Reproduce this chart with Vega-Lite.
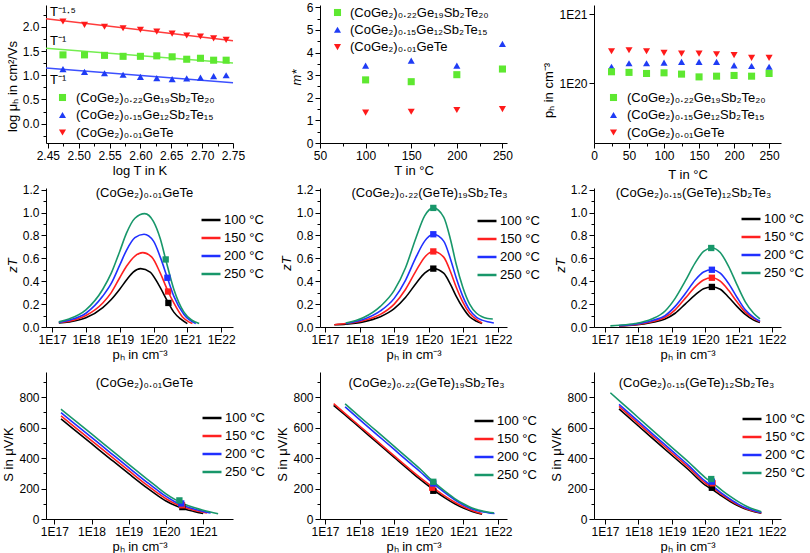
{
"$schema":"https://vega.github.io/schema/vega-lite/v6.json",
"autosize":{"type":"pad"},
"padding":{"left":2,"top":1,"right":0,"bottom":0},
"background":"white",
"config":{
 "font":"Liberation Sans",
 "view":{"stroke":null},
 "axis":{"grid":false,"domainColor":"#000","tickColor":"#000","labelColor":"#000","titleColor":"#000","labelFont":"Liberation Sans","titleFont":"Liberation Sans","labelFontSize":12,"titleFontSize":13,"titleFontWeight":"normal","tickSize":5,"labelPadding":2,"titlePadding":3,"labelFlush":false,"labelOverlap":false},
 "legend":{"labelFont":"Liberation Sans","labelFontSize":13,"labelColor":"#000","padding":0,"labelLimit":300},
 "title":{"font":"Liberation Sans","fontSize":13,"fontWeight":"normal","color":"#000"}
},
"datasets":{
 "mu":[
  {"logT":2.4745,"mu":2.11,"s":"(CoGe₂)₀.₀₁GeTe"},{"logT":2.5094,"mu":2.04,"s":"(CoGe₂)₀.₀₁GeTe"},{"logT":2.5418,"mu":2.00,"s":"(CoGe₂)₀.₀₁GeTe"},{"logT":2.5719,"mu":1.97,"s":"(CoGe₂)₀.₀₁GeTe"},{"logT":2.6000,"mu":1.94,"s":"(CoGe₂)₀.₀₁GeTe"},{"logT":2.6265,"mu":1.90,"s":"(CoGe₂)₀.₀₁GeTe"},{"logT":2.6514,"mu":1.86,"s":"(CoGe₂)₀.₀₁GeTe"},{"logT":2.6750,"mu":1.82,"s":"(CoGe₂)₀.₀₁GeTe"},{"logT":2.6973,"mu":1.80,"s":"(CoGe₂)₀.₀₁GeTe"},{"logT":2.7186,"mu":1.76,"s":"(CoGe₂)₀.₀₁GeTe"},{"logT":2.7389,"mu":1.73,"s":"(CoGe₂)₀.₀₁GeTe"},
  {"logT":2.4745,"mu":1.42,"s":"(CoGe₂)₀.₂₂Ge₁₉Sb₂Te₂₀"},{"logT":2.5094,"mu":1.42,"s":"(CoGe₂)₀.₂₂Ge₁₉Sb₂Te₂₀"},{"logT":2.5418,"mu":1.41,"s":"(CoGe₂)₀.₂₂Ge₁₉Sb₂Te₂₀"},{"logT":2.5719,"mu":1.39,"s":"(CoGe₂)₀.₂₂Ge₁₉Sb₂Te₂₀"},{"logT":2.6000,"mu":1.39,"s":"(CoGe₂)₀.₂₂Ge₁₉Sb₂Te₂₀"},{"logT":2.6265,"mu":1.40,"s":"(CoGe₂)₀.₂₂Ge₁₉Sb₂Te₂₀"},{"logT":2.6514,"mu":1.38,"s":"(CoGe₂)₀.₂₂Ge₁₉Sb₂Te₂₀"},{"logT":2.6750,"mu":1.33,"s":"(CoGe₂)₀.₂₂Ge₁₉Sb₂Te₂₀"},{"logT":2.6973,"mu":1.35,"s":"(CoGe₂)₀.₂₂Ge₁₉Sb₂Te₂₀"},{"logT":2.7186,"mu":1.31,"s":"(CoGe₂)₀.₂₂Ge₁₉Sb₂Te₂₀"},{"logT":2.7389,"mu":1.31,"s":"(CoGe₂)₀.₂₂Ge₁₉Sb₂Te₂₀"},
  {"logT":2.4745,"mu":1.125,"s":"(CoGe₂)₀.₁₅Ge₁₂Sb₂Te₁₅"},{"logT":2.5094,"mu":1.07,"s":"(CoGe₂)₀.₁₅Ge₁₂Sb₂Te₁₅"},{"logT":2.5418,"mu":1.04,"s":"(CoGe₂)₀.₁₅Ge₁₂Sb₂Te₁₅"},{"logT":2.5719,"mu":1.01,"s":"(CoGe₂)₀.₁₅Ge₁₂Sb₂Te₁₅"},{"logT":2.6000,"mu":0.965,"s":"(CoGe₂)₀.₁₅Ge₁₂Sb₂Te₁₅"},{"logT":2.6265,"mu":0.94,"s":"(CoGe₂)₀.₁₅Ge₁₂Sb₂Te₁₅"},{"logT":2.6514,"mu":0.92,"s":"(CoGe₂)₀.₁₅Ge₁₂Sb₂Te₁₅"},{"logT":2.6750,"mu":0.935,"s":"(CoGe₂)₀.₁₅Ge₁₂Sb₂Te₁₅"},{"logT":2.6973,"mu":0.95,"s":"(CoGe₂)₀.₁₅Ge₁₂Sb₂Te₁₅"},{"logT":2.7186,"mu":0.98,"s":"(CoGe₂)₀.₁₅Ge₁₂Sb₂Te₁₅"},{"logT":2.7389,"mu":1.00,"s":"(CoGe₂)₀.₁₅Ge₁₂Sb₂Te₁₅"}
 ],
 "mfit":[
  {"logT":2.447,"mu":2.167,"fit":"a","label":"T⁻¹·⁵"},{"logT":2.75,"mu":1.712,"fit":"a","label":"T⁻¹·⁵"},
  {"logT":2.447,"mu":1.555,"fit":"b","label":"T⁻¹"},{"logT":2.75,"mu":1.252,"fit":"b","label":"T⁻¹"},
  {"logT":2.447,"mu":1.147,"fit":"c","label":"T⁻¹"},{"logT":2.75,"mu":0.844,"fit":"c","label":"T⁻¹"}
 ],
 "mstar":[
  {"T":100,"m":2.79,"s":"(CoGe₂)₀.₂₂Ge₁₉Sb₂Te₂₀"},{"T":150,"m":2.71,"s":"(CoGe₂)₀.₂₂Ge₁₉Sb₂Te₂₀"},{"T":200,"m":3.02,"s":"(CoGe₂)₀.₂₂Ge₁₉Sb₂Te₂₀"},{"T":250,"m":3.27,"s":"(CoGe₂)₀.₂₂Ge₁₉Sb₂Te₂₀"},
  {"T":100,"m":3.42,"s":"(CoGe₂)₀.₁₅Ge₁₂Sb₂Te₁₅"},{"T":150,"m":3.64,"s":"(CoGe₂)₀.₁₅Ge₁₂Sb₂Te₁₅"},{"T":200,"m":3.42,"s":"(CoGe₂)₀.₁₅Ge₁₂Sb₂Te₁₅"},{"T":250,"m":4.38,"s":"(CoGe₂)₀.₁₅Ge₁₂Sb₂Te₁₅"},
  {"T":100,"m":1.34,"s":"(CoGe₂)₀.₀₁GeTe"},{"T":150,"m":1.38,"s":"(CoGe₂)₀.₀₁GeTe"},{"T":200,"m":1.46,"s":"(CoGe₂)₀.₀₁GeTe"},{"T":250,"m":1.50,"s":"(CoGe₂)₀.₀₁GeTe"}
 ],
 "ph":[
  {"T":25,"p":2.91e20,"s":"(CoGe₂)₀.₀₁GeTe"},{"T":50,"p":3.0e20,"s":"(CoGe₂)₀.₀₁GeTe"},{"T":75,"p":2.91e20,"s":"(CoGe₂)₀.₀₁GeTe"},{"T":100,"p":2.75e20,"s":"(CoGe₂)₀.₀₁GeTe"},{"T":125,"p":2.69e20,"s":"(CoGe₂)₀.₀₁GeTe"},{"T":150,"p":2.69e20,"s":"(CoGe₂)₀.₀₁GeTe"},{"T":175,"p":2.63e20,"s":"(CoGe₂)₀.₀₁GeTe"},{"T":200,"p":2.55e20,"s":"(CoGe₂)₀.₀₁GeTe"},{"T":225,"p":2.33e20,"s":"(CoGe₂)₀.₀₁GeTe"},{"T":250,"p":2.33e20,"s":"(CoGe₂)₀.₀₁GeTe"},
  {"T":25,"p":1.74e20,"s":"(CoGe₂)₀.₁₅Ge₁₂Sb₂Te₁₅"},{"T":50,"p":1.95e20,"s":"(CoGe₂)₀.₁₅Ge₁₂Sb₂Te₁₅"},{"T":75,"p":1.95e20,"s":"(CoGe₂)₀.₁₅Ge₁₂Sb₂Te₁₅"},{"T":100,"p":1.99e20,"s":"(CoGe₂)₀.₁₅Ge₁₂Sb₂Te₁₅"},{"T":125,"p":2.04e20,"s":"(CoGe₂)₀.₁₅Ge₁₂Sb₂Te₁₅"},{"T":150,"p":2.04e20,"s":"(CoGe₂)₀.₁₅Ge₁₂Sb₂Te₁₅"},{"T":175,"p":2.04e20,"s":"(CoGe₂)₀.₁₅Ge₁₂Sb₂Te₁₅"},{"T":200,"p":1.82e20,"s":"(CoGe₂)₀.₁₅Ge₁₂Sb₂Te₁₅"},{"T":225,"p":1.78e20,"s":"(CoGe₂)₀.₁₅Ge₁₂Sb₂Te₁₅"},{"T":250,"p":1.74e20,"s":"(CoGe₂)₀.₁₅Ge₁₂Sb₂Te₁₅"},
  {"T":25,"p":1.47e20,"s":"(CoGe₂)₀.₂₂Ge₁₉Sb₂Te₂₀"},{"T":50,"p":1.44e20,"s":"(CoGe₂)₀.₂₂Ge₁₉Sb₂Te₂₀"},{"T":75,"p":1.39e20,"s":"(CoGe₂)₀.₂₂Ge₁₉Sb₂Te₂₀"},{"T":100,"p":1.42e20,"s":"(CoGe₂)₀.₂₂Ge₁₉Sb₂Te₂₀"},{"T":125,"p":1.36e20,"s":"(CoGe₂)₀.₂₂Ge₁₉Sb₂Te₂₀"},{"T":150,"p":1.24e20,"s":"(CoGe₂)₀.₂₂Ge₁₉Sb₂Te₂₀"},{"T":175,"p":1.27e20,"s":"(CoGe₂)₀.₂₂Ge₁₉Sb₂Te₂₀"},{"T":200,"p":1.30e20,"s":"(CoGe₂)₀.₂₂Ge₁₉Sb₂Te₂₀"},{"T":225,"p":1.27e20,"s":"(CoGe₂)₀.₂₂Ge₁₉Sb₂Te₂₀"},{"T":250,"p":1.39e20,"s":"(CoGe₂)₀.₂₂Ge₁₉Sb₂Te₂₀"}
 ],
 "zt1":[
  {"p":1.585e17,"z":0.035,"t":"100 °C"},{"p":3.162e17,"z":0.045,"t":"100 °C"},{"p":1e18,"z":0.08,"t":"100 °C"},{"p":3.162e18,"z":0.17,"t":"100 °C"},{"p":5.623e18,"z":0.24,"t":"100 °C"},{"p":1e19,"z":0.33,"t":"100 °C"},{"p":1.585e19,"z":0.41,"t":"100 °C"},{"p":2.512e19,"z":0.48,"t":"100 °C"},{"p":4.169e19,"z":0.51,"t":"100 °C"},{"p":7.943e19,"z":0.48,"t":"100 °C"},{"p":1.413e20,"z":0.37,"t":"100 °C"},{"p":2.754e20,"z":0.21,"t":"100 °C"},{"p":3.981e20,"z":0.13,"t":"100 °C"},{"p":6.31e20,"z":0.07,"t":"100 °C"},{"p":1e21,"z":0.03,"t":"100 °C"},
  {"p":1.585e17,"z":0.04,"t":"150 °C"},{"p":3.162e17,"z":0.05,"t":"150 °C"},{"p":1e18,"z":0.10,"t":"150 °C"},{"p":3.162e18,"z":0.21,"t":"150 °C"},{"p":5.623e18,"z":0.30,"t":"150 °C"},{"p":1e19,"z":0.43,"t":"150 °C"},{"p":1.585e19,"z":0.53,"t":"150 °C"},{"p":2.818e19,"z":0.62,"t":"150 °C"},{"p":4.786e19,"z":0.65,"t":"150 °C"},{"p":8.913e19,"z":0.61,"t":"150 °C"},{"p":1.585e20,"z":0.47,"t":"150 °C"},{"p":2.692e20,"z":0.31,"t":"150 °C"},{"p":3.981e20,"z":0.21,"t":"150 °C"},{"p":7.079e20,"z":0.09,"t":"150 °C"},{"p":1.413e21,"z":0.03,"t":"150 °C"},
  {"p":1.585e17,"z":0.04,"t":"200 °C"},{"p":3.162e17,"z":0.06,"t":"200 °C"},{"p":1e18,"z":0.12,"t":"200 °C"},{"p":3.162e18,"z":0.27,"t":"200 °C"},{"p":5.623e18,"z":0.38,"t":"200 °C"},{"p":1e19,"z":0.54,"t":"200 °C"},{"p":1.585e19,"z":0.67,"t":"200 °C"},{"p":2.818e19,"z":0.78,"t":"200 °C"},{"p":5.248e19,"z":0.81,"t":"200 °C"},{"p":1e20,"z":0.75,"t":"200 °C"},{"p":1.585e20,"z":0.61,"t":"200 °C"},{"p":2.57e20,"z":0.43,"t":"200 °C"},{"p":3.981e20,"z":0.27,"t":"200 °C"},{"p":7.943e20,"z":0.11,"t":"200 °C"},{"p":1.778e21,"z":0.03,"t":"200 °C"},
  {"p":1.585e17,"z":0.045,"t":"250 °C"},{"p":3.162e17,"z":0.07,"t":"250 °C"},{"p":1e18,"z":0.15,"t":"250 °C"},{"p":3.162e18,"z":0.33,"t":"250 °C"},{"p":5.623e18,"z":0.47,"t":"250 °C"},{"p":1e19,"z":0.66,"t":"250 °C"},{"p":1.585e19,"z":0.82,"t":"250 °C"},{"p":2.818e19,"z":0.95,"t":"250 °C"},{"p":5.495e19,"z":0.99,"t":"250 °C"},{"p":1e20,"z":0.92,"t":"250 °C"},{"p":1.585e20,"z":0.77,"t":"250 °C"},{"p":2.291e20,"z":0.59,"t":"250 °C"},{"p":3.981e20,"z":0.33,"t":"250 °C"},{"p":7.943e20,"z":0.13,"t":"250 °C"},{"p":2.239e21,"z":0.03,"t":"250 °C"}
 ],
 "zt1m":[
  {"p":2.754e20,"z":0.21,"t":"100 °C"},{"p":2.692e20,"z":0.31,"t":"150 °C"},{"p":2.57e20,"z":0.43,"t":"200 °C"},{"p":2.291e20,"z":0.59,"t":"250 °C"}
 ],
 "zt2":[
  {"p":1.862e17,"z":0.02,"t":"100 °C"},{"p":3.981e17,"z":0.025,"t":"100 °C"},{"p":1.259e18,"z":0.045,"t":"100 °C"},{"p":3.981e18,"z":0.09,"t":"100 °C"},{"p":1e19,"z":0.16,"t":"100 °C"},{"p":2.138e19,"z":0.26,"t":"100 °C"},{"p":4.266e19,"z":0.38,"t":"100 °C"},{"p":7.586e19,"z":0.47,"t":"100 °C"},{"p":1.349e20,"z":0.51,"t":"100 °C"},{"p":2.692e20,"z":0.47,"t":"100 °C"},{"p":4.266e20,"z":0.37,"t":"100 °C"},{"p":6.166e20,"z":0.27,"t":"100 °C"},{"p":9.55e20,"z":0.17,"t":"100 °C"},{"p":1.514e21,"z":0.09,"t":"100 °C"},{"p":2.399e21,"z":0.05,"t":"100 °C"},{"p":3.467e21,"z":0.03,"t":"100 °C"},
  {"p":1.862e17,"z":0.02,"t":"150 °C"},{"p":3.981e17,"z":0.03,"t":"150 °C"},{"p":1.259e18,"z":0.055,"t":"150 °C"},{"p":3.981e18,"z":0.11,"t":"150 °C"},{"p":1e19,"z":0.2,"t":"150 °C"},{"p":2.138e19,"z":0.33,"t":"150 °C"},{"p":4.266e19,"z":0.49,"t":"150 °C"},{"p":7.586e19,"z":0.61,"t":"150 °C"},{"p":1.349e20,"z":0.66,"t":"150 °C"},{"p":2.692e20,"z":0.61,"t":"150 °C"},{"p":4.266e20,"z":0.48,"t":"150 °C"},{"p":6.166e20,"z":0.35,"t":"150 °C"},{"p":9.55e20,"z":0.22,"t":"150 °C"},{"p":1.514e21,"z":0.12,"t":"150 °C"},{"p":2.399e21,"z":0.065,"t":"150 °C"},{"p":3.467e21,"z":0.035,"t":"150 °C"},
  {"p":3.981e17,"z":0.03,"t":"200 °C"},{"p":1.259e18,"z":0.065,"t":"200 °C"},{"p":3.981e18,"z":0.14,"t":"200 °C"},{"p":1e19,"z":0.25,"t":"200 °C"},{"p":2.138e19,"z":0.41,"t":"200 °C"},{"p":4.266e19,"z":0.61,"t":"200 °C"},{"p":7.586e19,"z":0.75,"t":"200 °C"},{"p":1.349e20,"z":0.81,"t":"200 °C"},{"p":2.692e20,"z":0.75,"t":"200 °C"},{"p":4.266e20,"z":0.59,"t":"200 °C"},{"p":6.166e20,"z":0.43,"t":"200 °C"},{"p":9.55e20,"z":0.27,"t":"200 °C"},{"p":1.514e21,"z":0.15,"t":"200 °C"},{"p":2.399e21,"z":0.085,"t":"200 °C"},{"p":3.467e21,"z":0.06,"t":"200 °C"},{"p":5.012e21,"z":0.045,"t":"200 °C"},{"p":7.586e21,"z":0.035,"t":"200 °C"},
  {"p":3.981e17,"z":0.035,"t":"250 °C"},{"p":1.259e18,"z":0.08,"t":"250 °C"},{"p":3.981e18,"z":0.18,"t":"250 °C"},{"p":1e19,"z":0.32,"t":"250 °C"},{"p":2.138e19,"z":0.52,"t":"250 °C"},{"p":4.266e19,"z":0.78,"t":"250 °C"},{"p":7.586e19,"z":0.97,"t":"250 °C"},{"p":1.349e20,"z":1.04,"t":"250 °C"},{"p":2.692e20,"z":0.96,"t":"250 °C"},{"p":4.266e20,"z":0.76,"t":"250 °C"},{"p":6.166e20,"z":0.55,"t":"250 °C"},{"p":9.55e20,"z":0.35,"t":"250 °C"},{"p":1.514e21,"z":0.2,"t":"250 °C"},{"p":2.399e21,"z":0.12,"t":"250 °C"},{"p":3.467e21,"z":0.09,"t":"250 °C"},{"p":5.012e21,"z":0.075,"t":"250 °C"},{"p":7.079e21,"z":0.07,"t":"250 °C"}
 ],
 "zt2m":[
  {"p":1.349e20,"z":0.51,"t":"100 °C"},{"p":1.349e20,"z":0.66,"t":"150 °C"},{"p":1.349e20,"z":0.81,"t":"200 °C"},{"p":1.349e20,"z":1.04,"t":"250 °C"}
 ],
 "zt3":[
  {"p":2.63e17,"z":0.01,"t":"100 °C"},{"p":7.943e17,"z":0.018,"t":"100 °C"},{"p":2.512e18,"z":0.04,"t":"100 °C"},{"p":6.31e18,"z":0.07,"t":"100 °C"},{"p":1.259e19,"z":0.12,"t":"100 °C"},{"p":2.512e19,"z":0.2,"t":"100 °C"},{"p":5.012e19,"z":0.28,"t":"100 °C"},{"p":8.913e19,"z":0.335,"t":"100 °C"},{"p":1.585e20,"z":0.35,"t":"100 °C"},{"p":2.818e20,"z":0.33,"t":"100 °C"},{"p":5.012e20,"z":0.26,"t":"100 °C"},{"p":8.913e20,"z":0.18,"t":"100 °C"},{"p":1.585e21,"z":0.11,"t":"100 °C"},{"p":2.818e21,"z":0.06,"t":"100 °C"},{"p":4.365e21,"z":0.04,"t":"100 °C"},
  {"p":2.63e17,"z":0.01,"t":"150 °C"},{"p":7.943e17,"z":0.02,"t":"150 °C"},{"p":2.512e18,"z":0.045,"t":"150 °C"},{"p":6.31e18,"z":0.085,"t":"150 °C"},{"p":1.259e19,"z":0.15,"t":"150 °C"},{"p":2.512e19,"z":0.25,"t":"150 °C"},{"p":5.012e19,"z":0.35,"t":"150 °C"},{"p":8.913e19,"z":0.41,"t":"150 °C"},{"p":1.585e20,"z":0.43,"t":"150 °C"},{"p":2.818e20,"z":0.40,"t":"150 °C"},{"p":5.012e20,"z":0.32,"t":"150 °C"},{"p":8.913e20,"z":0.22,"t":"150 °C"},{"p":1.585e21,"z":0.13,"t":"150 °C"},{"p":2.818e21,"z":0.075,"t":"150 °C"},{"p":4.365e21,"z":0.045,"t":"150 °C"},
  {"p":2.63e17,"z":0.012,"t":"200 °C"},{"p":7.943e17,"z":0.025,"t":"200 °C"},{"p":2.512e18,"z":0.055,"t":"200 °C"},{"p":6.31e18,"z":0.1,"t":"200 °C"},{"p":1.259e19,"z":0.18,"t":"200 °C"},{"p":2.512e19,"z":0.29,"t":"200 °C"},{"p":5.012e19,"z":0.41,"t":"200 °C"},{"p":8.913e19,"z":0.48,"t":"200 °C"},{"p":1.585e20,"z":0.5,"t":"200 °C"},{"p":2.818e20,"z":0.47,"t":"200 °C"},{"p":5.012e20,"z":0.38,"t":"200 °C"},{"p":8.913e20,"z":0.26,"t":"200 °C"},{"p":1.585e21,"z":0.15,"t":"200 °C"},{"p":2.818e21,"z":0.085,"t":"200 °C"},{"p":4.365e21,"z":0.05,"t":"200 °C"},
  {"p":1.445e17,"z":0.01,"t":"250 °C"},{"p":2.63e17,"z":0.015,"t":"250 °C"},{"p":7.943e17,"z":0.03,"t":"250 °C"},{"p":2.512e18,"z":0.07,"t":"250 °C"},{"p":6.31e18,"z":0.14,"t":"250 °C"},{"p":1.259e19,"z":0.25,"t":"250 °C"},{"p":2.512e19,"z":0.4,"t":"250 °C"},{"p":5.012e19,"z":0.56,"t":"250 °C"},{"p":8.913e19,"z":0.66,"t":"250 °C"},{"p":1.585e20,"z":0.69,"t":"250 °C"},{"p":2.818e20,"z":0.65,"t":"250 °C"},{"p":5.012e20,"z":0.53,"t":"250 °C"},{"p":8.913e20,"z":0.37,"t":"250 °C"},{"p":1.585e21,"z":0.22,"t":"250 °C"},{"p":2.818e21,"z":0.12,"t":"250 °C"},{"p":4.365e21,"z":0.07,"t":"250 °C"}
 ],
 "zt3m":[
  {"p":1.585e20,"z":0.35,"t":"100 °C"},{"p":1.585e20,"z":0.43,"t":"150 °C"},{"p":1.585e20,"z":0.50,"t":"200 °C"},{"p":1.514e20,"z":0.69,"t":"250 °C"}
 ],
 "s1":[
  {"p":1.514e17,"S":656,"t":"100 °C"},{"p":3.162e17,"S":593,"t":"100 °C"},{"p":1e18,"S":494,"t":"100 °C"},{"p":3.162e18,"S":395,"t":"100 °C"},{"p":1e19,"S":297,"t":"100 °C"},{"p":3.162e19,"S":202,"t":"100 °C"},{"p":5.623e19,"S":158,"t":"100 °C"},{"p":1e20,"S":118,"t":"100 °C"},{"p":1.778e20,"S":88,"t":"100 °C"},{"p":3.162e20,"S":66,"t":"100 °C"},{"p":5.623e20,"S":50,"t":"100 °C"},{"p":1e21,"S":36,"t":"100 °C"},
  {"p":1.514e17,"S":676,"t":"150 °C"},{"p":3.162e17,"S":613,"t":"150 °C"},{"p":1e18,"S":514,"t":"150 °C"},{"p":3.162e18,"S":415,"t":"150 °C"},{"p":1e19,"S":317,"t":"150 °C"},{"p":3.162e19,"S":220,"t":"150 °C"},{"p":5.623e19,"S":175,"t":"150 °C"},{"p":1e20,"S":133,"t":"150 °C"},{"p":1.778e20,"S":100,"t":"150 °C"},{"p":3.162e20,"S":76,"t":"150 °C"},{"p":5.623e20,"S":58,"t":"150 °C"},{"p":1e21,"S":44,"t":"150 °C"},{"p":1.259e21,"S":39,"t":"150 °C"},
  {"p":1.514e17,"S":697,"t":"200 °C"},{"p":3.162e17,"S":634,"t":"200 °C"},{"p":1e18,"S":535,"t":"200 °C"},{"p":3.162e18,"S":436,"t":"200 °C"},{"p":1e19,"S":337,"t":"200 °C"},{"p":3.162e19,"S":239,"t":"200 °C"},{"p":5.623e19,"S":192,"t":"200 °C"},{"p":1e20,"S":148,"t":"200 °C"},{"p":1.778e20,"S":112,"t":"200 °C"},{"p":3.162e20,"S":86,"t":"200 °C"},{"p":5.623e20,"S":66,"t":"200 °C"},{"p":1e21,"S":50,"t":"200 °C"},{"p":1.585e21,"S":40,"t":"200 °C"},
  {"p":1.514e17,"S":720,"t":"250 °C"},{"p":3.162e17,"S":657,"t":"250 °C"},{"p":1e18,"S":558,"t":"250 °C"},{"p":3.162e18,"S":458,"t":"250 °C"},{"p":1e19,"S":358,"t":"250 °C"},{"p":3.162e19,"S":260,"t":"250 °C"},{"p":5.623e19,"S":212,"t":"250 °C"},{"p":1e20,"S":165,"t":"250 °C"},{"p":1.778e20,"S":127,"t":"250 °C"},{"p":3.162e20,"S":97,"t":"250 °C"},{"p":5.623e20,"S":75,"t":"250 °C"},{"p":1e21,"S":57,"t":"250 °C"},{"p":2.512e21,"S":35,"t":"250 °C"}
 ],
 "s1m":[
  {"p":2.754e20,"S":78,"t":"100 °C"},{"p":2.692e20,"S":90,"t":"150 °C"},{"p":2.57e20,"S":102,"t":"200 °C"},{"p":2.291e20,"S":122,"t":"250 °C"}
 ],
 "s2":[
  {"p":1.778e17,"S":745,"t":"100 °C"},{"p":3.162e17,"S":698,"t":"100 °C"},{"p":1e18,"S":600,"t":"100 °C"},{"p":3.162e18,"S":502,"t":"100 °C"},{"p":1e19,"S":404,"t":"100 °C"},{"p":3.162e19,"S":307,"t":"100 °C"},{"p":5.623e19,"S":260,"t":"100 °C"},{"p":1e20,"S":215,"t":"100 °C"},{"p":1.778e20,"S":172,"t":"100 °C"},{"p":3.162e20,"S":134,"t":"100 °C"},{"p":5.623e20,"S":100,"t":"100 °C"},{"p":1e21,"S":72,"t":"100 °C"},{"p":1.778e21,"S":50,"t":"100 °C"},{"p":3.467e21,"S":32,"t":"100 °C"},
  {"p":1.778e17,"S":757,"t":"150 °C"},{"p":3.162e17,"S":708,"t":"150 °C"},{"p":1e18,"S":610,"t":"150 °C"},{"p":3.162e18,"S":512,"t":"150 °C"},{"p":1e19,"S":414,"t":"150 °C"},{"p":3.162e19,"S":318,"t":"150 °C"},{"p":5.623e19,"S":272,"t":"150 °C"},{"p":1e20,"S":228,"t":"150 °C"},{"p":1.778e20,"S":185,"t":"150 °C"},{"p":3.162e20,"S":145,"t":"150 °C"},{"p":5.623e20,"S":110,"t":"150 °C"},{"p":1e21,"S":80,"t":"150 °C"},{"p":1.778e21,"S":56,"t":"150 °C"},{"p":3.467e21,"S":35,"t":"150 °C"},
  {"p":3.802e17,"S":735,"t":"200 °C"},{"p":1e18,"S":652,"t":"200 °C"},{"p":3.162e18,"S":554,"t":"200 °C"},{"p":1e19,"S":456,"t":"200 °C"},{"p":3.162e19,"S":358,"t":"200 °C"},{"p":5.623e19,"S":310,"t":"200 °C"},{"p":1e20,"S":258,"t":"200 °C"},{"p":1.778e20,"S":210,"t":"200 °C"},{"p":3.162e20,"S":166,"t":"200 °C"},{"p":5.623e20,"S":126,"t":"200 °C"},{"p":1e21,"S":92,"t":"200 °C"},{"p":1.778e21,"S":66,"t":"200 °C"},{"p":3.162e21,"S":50,"t":"200 °C"},{"p":5.012e21,"S":42,"t":"200 °C"},{"p":7.943e21,"S":36,"t":"200 °C"},
  {"p":3.802e17,"S":755,"t":"250 °C"},{"p":1e18,"S":672,"t":"250 °C"},{"p":3.162e18,"S":574,"t":"250 °C"},{"p":1e19,"S":476,"t":"250 °C"},{"p":3.162e19,"S":378,"t":"250 °C"},{"p":5.623e19,"S":328,"t":"250 °C"},{"p":1e20,"S":272,"t":"250 °C"},{"p":1.778e20,"S":222,"t":"250 °C"},{"p":3.162e20,"S":176,"t":"250 °C"},{"p":5.623e20,"S":134,"t":"250 °C"},{"p":1e21,"S":100,"t":"250 °C"},{"p":1.778e21,"S":72,"t":"250 °C"},{"p":3.162e21,"S":55,"t":"250 °C"},{"p":5.012e21,"S":46,"t":"250 °C"},{"p":7.586e21,"S":40,"t":"250 °C"}
 ],
 "s2m":[
  {"p":1.349e20,"S":185,"t":"100 °C"},{"p":1.259e20,"S":205,"t":"150 °C"},{"p":1.349e20,"S":233,"t":"200 °C"},{"p":1.349e20,"S":244,"t":"250 °C"}
 ],
 "s3":[
  {"p":2.63e17,"S":722,"t":"100 °C"},{"p":1e18,"S":610,"t":"100 °C"},{"p":3.162e18,"S":514,"t":"100 °C"},{"p":1e19,"S":418,"t":"100 °C"},{"p":3.162e19,"S":323,"t":"100 °C"},{"p":1e20,"S":222,"t":"100 °C"},{"p":1.778e20,"S":188,"t":"100 °C"},{"p":3.162e20,"S":150,"t":"100 °C"},{"p":5.623e20,"S":115,"t":"100 °C"},{"p":1e21,"S":85,"t":"100 °C"},{"p":1.778e21,"S":62,"t":"100 °C"},{"p":3.162e21,"S":46,"t":"100 °C"},{"p":4.786e21,"S":38,"t":"100 °C"},
  {"p":2.63e17,"S":738,"t":"150 °C"},{"p":1e18,"S":626,"t":"150 °C"},{"p":3.162e18,"S":530,"t":"150 °C"},{"p":1e19,"S":434,"t":"150 °C"},{"p":3.162e19,"S":338,"t":"150 °C"},{"p":1e20,"S":236,"t":"150 °C"},{"p":1.778e20,"S":200,"t":"150 °C"},{"p":3.162e20,"S":160,"t":"150 °C"},{"p":5.623e20,"S":123,"t":"150 °C"},{"p":1e21,"S":91,"t":"150 °C"},{"p":1.778e21,"S":66,"t":"150 °C"},{"p":3.162e21,"S":49,"t":"150 °C"},{"p":4.786e21,"S":40,"t":"150 °C"},
  {"p":2.63e17,"S":752,"t":"200 °C"},{"p":1e18,"S":640,"t":"200 °C"},{"p":3.162e18,"S":544,"t":"200 °C"},{"p":1e19,"S":448,"t":"200 °C"},{"p":3.162e19,"S":352,"t":"200 °C"},{"p":1e20,"S":248,"t":"200 °C"},{"p":1.778e20,"S":210,"t":"200 °C"},{"p":3.162e20,"S":168,"t":"200 °C"},{"p":5.623e20,"S":130,"t":"200 °C"},{"p":1e21,"S":96,"t":"200 °C"},{"p":1.778e21,"S":70,"t":"200 °C"},{"p":3.162e21,"S":52,"t":"200 °C"},{"p":4.786e21,"S":42,"t":"200 °C"},
  {"p":1.445e17,"S":828,"t":"250 °C"},{"p":3.162e17,"S":762,"t":"250 °C"},{"p":1e18,"S":664,"t":"250 °C"},{"p":3.162e18,"S":567,"t":"250 °C"},{"p":1e19,"S":470,"t":"250 °C"},{"p":3.162e19,"S":374,"t":"250 °C"},{"p":1e20,"S":272,"t":"250 °C"},{"p":1.778e20,"S":232,"t":"250 °C"},{"p":3.162e20,"S":188,"t":"250 °C"},{"p":5.623e20,"S":148,"t":"250 °C"},{"p":1e21,"S":112,"t":"250 °C"},{"p":1.778e21,"S":82,"t":"250 °C"},{"p":3.162e21,"S":60,"t":"250 °C"},{"p":4.786e21,"S":48,"t":"250 °C"}
 ],
 "s3m":[
  {"p":1.585e20,"S":205,"t":"100 °C"},{"p":1.66e20,"S":234,"t":"150 °C"},{"p":1.585e20,"S":245,"t":"200 °C"},{"p":1.514e20,"S":262,"t":"250 °C"}
 ]
},
"columns":3,
"spacing":{"row":45,"column":87},
"bounds":"flush",
"align":"each",
"resolve":{"scale":{"x":"independent","y":"independent","color":"independent","shape":"independent","stroke":"independent","fill":"independent"},"legend":{"color":"independent","shape":"independent","stroke":"independent","fill":"independent"}},
"concat":[
 {"width":187,"height":138,
  "encoding":{
   "x":{"field":"logT","type":"quantitative","scale":{"domain":[2.447,2.75],"nice":false,"zero":false},"axis":{"title":"log T in K","labelOverlap":false,"values":[2.45,2.475,2.5,2.525,2.55,2.575,2.6,2.625,2.65,2.675,2.7,2.725,2.75],"labelExpr":"round(datum.value*1000) % 50 == 0 ? format(datum.value, '.2f') : ''","tickSize":{"condition":{"test":"round(datum.value*1000) % 50 != 0","value":3},"value":5}}},
   "y":{"field":"mu","type":"quantitative","scale":{"domain":[-0.4,2.45],"nice":false,"zero":false},"axis":{"title":"log μₕ in cm²/Vs","titleY":81,"labelOverlap":false,"values":[-0.25,0,0.25,0.5,0.75,1,1.25,1.5,1.75,2,2.25],"labelExpr":"round(datum.value*100) % 50 == 0 ? format(datum.value, '.1f') : ''","tickSize":{"condition":{"test":"round(datum.value*100) % 50 != 0","value":3},"value":5}}}
  },
  "layer":[
   {"data":{"name":"mfit"},"mark":{"type":"line","strokeWidth":1.5},
    "encoding":{
     "stroke":{"field":"fit","type":"nominal","scale":{"domain":["a","b","c"],"range":["#ff3c3c","#74ee50","#3c50ff"]},"legend":null}}},
   {"data":{"name":"mu"},"mark":{"type":"point","filled":true,"size":50,"opacity":1},
    "encoding":{
     "color":{"field":"s","type":"nominal","scale":{"domain":["(CoGe₂)₀.₂₂Ge₁₉Sb₂Te₂₀","(CoGe₂)₀.₁₅Ge₁₂Sb₂Te₁₅","(CoGe₂)₀.₀₁GeTe"],"range":["#5ee830","#1f3cf5","#ff1a1a"]},"legend":{"orient":"none","legendX":10,"legendY":86,"title":null,"symbolSize":50,"rowPadding":3.5,"labelOffset":7}},
     "shape":{"field":"s","type":"nominal","scale":{"domain":["(CoGe₂)₀.₂₂Ge₁₉Sb₂Te₂₀","(CoGe₂)₀.₁₅Ge₁₂Sb₂Te₁₅","(CoGe₂)₀.₀₁GeTe"],"range":["square","triangle-up","triangle-down"]},"legend":{"orient":"none","legendX":10,"legendY":86,"title":null,"symbolSize":50,"rowPadding":3.5,"labelOffset":7}}}},
   {"data":{"name":"mfit"},"transform":[{"filter":"datum.logT < 2.5 && datum.fit != 'c'"}],
    "mark":{"type":"text","align":"left","baseline":"middle","fontSize":13,"dx":4,"dy":-7,"color":"#000"},
    "encoding":{"text":{"field":"label","type":"nominal"}}},
   {"data":{"name":"mfit"},"transform":[{"filter":"datum.logT < 2.5 && datum.fit == 'c'"}],
    "mark":{"type":"text","align":"left","baseline":"middle","fontSize":13,"dx":4,"dy":12,"color":"#000"},
    "encoding":{"text":{"field":"label","type":"nominal"}}}
  ]},
 {"width":187,"height":138,
  "data":{"name":"mstar"},
  "mark":{"type":"point","filled":true,"size":50,"opacity":1},
  "encoding":{
   "x":{"field":"T","type":"quantitative","scale":{"domain":[50,255],"nice":false,"zero":false},"axis":{"title":"T in °C","labelOverlap":false,"values":[50,75,100,125,150,175,200,225,250],"labelExpr":"datum.value % 50 == 0 ? format(datum.value, 'd') : ''","tickSize":{"condition":{"test":"datum.value % 50 != 0","value":3},"value":5}}},
   "y":{"field":"m","type":"quantitative","scale":{"domain":[0,6.1],"nice":false},"axis":{"title":"m*","titleFontStyle":"italic","titleY":72,"labelOverlap":false,"values":[0,0.5,1,1.5,2,2.5,3,3.5,4,4.5,5,5.5,6],"labelExpr":"datum.value % 1 == 0 ? format(datum.value, 'd') : ''","tickSize":{"condition":{"test":"datum.value % 1 != 0","value":3},"value":5}}},
   "color":{"field":"s","type":"nominal","scale":{"domain":["(CoGe₂)₀.₂₂Ge₁₉Sb₂Te₂₀","(CoGe₂)₀.₁₅Ge₁₂Sb₂Te₁₅","(CoGe₂)₀.₀₁GeTe"],"range":["#5ee830","#1f3cf5","#ff1a1a"]},"legend":{"orient":"none","legendX":11,"legendY":1,"title":null,"symbolSize":50,"rowPadding":3.3,"labelOffset":6}},
   "shape":{"field":"s","type":"nominal","scale":{"domain":["(CoGe₂)₀.₂₂Ge₁₉Sb₂Te₂₀","(CoGe₂)₀.₁₅Ge₁₂Sb₂Te₁₅","(CoGe₂)₀.₀₁GeTe"],"range":["square","triangle-up","triangle-down"]},"legend":{"orient":"none","legendX":11,"legendY":1,"title":null,"symbolSize":50,"rowPadding":3.3,"labelOffset":6}}}},
 {"width":187,"height":138,
  "data":{"name":"ph"},
  "mark":{"type":"point","filled":true,"size":50,"opacity":1},
  "encoding":{
   "x":{"field":"T","type":"quantitative","scale":{"domain":[0,267],"nice":false},"axis":{"title":"T in °C","titlePadding":7,"labelOverlap":false,"values":[0,25,50,75,100,125,150,175,200,225,250],"labelExpr":"datum.value % 50 == 0 ? format(datum.value, 'd') : ''","tickSize":{"condition":{"test":"datum.value % 50 != 0","value":3},"value":5}}},
   "y":{"field":"p","type":"quantitative","scale":{"type":"log","domain":[1.38e19,1.35e21],"nice":false},"axis":{"title":"pₕ in cm⁻³","titleY":85,"labelOverlap":false,"values":[1e20,1e21],"labelExpr":"'1E' + round(log(datum.value)/LN10)"}},
   "color":{"field":"s","type":"nominal","scale":{"domain":["(CoGe₂)₀.₂₂Ge₁₉Sb₂Te₂₀","(CoGe₂)₀.₁₅Ge₁₂Sb₂Te₁₅","(CoGe₂)₀.₀₁GeTe"],"range":["#5ee830","#1f3cf5","#ff1a1a"]},"legend":{"orient":"none","legendX":13,"legendY":86,"title":null,"symbolSize":50,"rowPadding":3.5,"labelOffset":7}},
   "shape":{"field":"s","type":"nominal","scale":{"domain":["(CoGe₂)₀.₂₂Ge₁₉Sb₂Te₂₀","(CoGe₂)₀.₁₅Ge₁₂Sb₂Te₁₅","(CoGe₂)₀.₀₁GeTe"],"range":["square","triangle-up","triangle-down"]},"legend":{"orient":"none","legendX":13,"legendY":86,"title":null,"symbolSize":50,"rowPadding":3.5,"labelOffset":7}}}},
 {"width":187,"height":139,
  "title":{"text":"(CoGe₂)₀.₀₁GeTe","offset":-16,"dx":5},
  "encoding":{
   "x":{"field":"p","type":"quantitative","scale":{"type":"log","domain":[6.61e16,2.24e22],"nice":false},"axis":{"title":"pₕ in cm⁻³","labelOverlap":false,"values":[1e17,1e18,1e19,1e20,1e21,1e22],"labelExpr":"'1E' + round(log(datum.value)/LN10)"}},
   "y":{"field":"z","type":"quantitative","scale":{"domain":[0,1.214],"nice":false},"axis":{"title":"zT","titleFontStyle":"italic","titleY":77,"labelOverlap":false,"values":[0,0.1,0.2,0.3,0.4,0.5,0.6,0.7,0.8,0.9,1.0,1.1,1.2],"labelExpr":"round(datum.value*10) % 2 == 0 ? format(datum.value, '.1f') : ''","tickSize":{"condition":{"test":"round(datum.value*10) % 2 != 0","value":3},"value":5}}}},
  "layer":[
   {"data":{"name":"zt1"},"mark":{"type":"line","strokeWidth":1.6,"interpolate":"monotone"},
    "encoding":{"stroke":{"field":"t","type":"nominal","scale":{"domain":["100 °C","150 °C","200 °C","250 °C"],"range":["#000000","#ff2020","#2030ff","#18976a"]},"legend":{"orient":"none","legendX":154,"legendY":21,"title":null,"symbolType":"stroke","symbolSize":360,"symbolStrokeWidth":2.5,"rowPadding":-4,"labelOffset":2}}}},
   {"data":{"name":"zt1m"},"mark":{"type":"square","size":40,"opacity":1},
    "encoding":{"fill":{"field":"t","type":"nominal","scale":{"domain":["100 °C","150 °C","200 °C","250 °C"],"range":["#000000","#ff2020","#2030ff","#18976a"]},"legend":null}}}
  ]},
 {"width":187,"height":139,
  "title":{"text":"(CoGe₂)₀.₂₂(GeTe)₁₉Sb₂Te₃","offset":-16,"dx":16},
  "encoding":{
   "x":{"field":"p","type":"quantitative","scale":{"type":"log","domain":[7.16e16,1.82e22],"nice":false},"axis":{"title":"pₕ in cm⁻³","labelOverlap":false,"values":[1e17,1e18,1e19,1e20,1e21,1e22],"labelExpr":"'1E' + round(log(datum.value)/LN10)"}},
   "y":{"field":"z","type":"quantitative","scale":{"domain":[0,1.214],"nice":false},"axis":{"title":"zT","titleFontStyle":"italic","titleY":75,"labelOverlap":false,"values":[0,0.1,0.2,0.3,0.4,0.5,0.6,0.7,0.8,0.9,1.0,1.1,1.2],"labelExpr":"round(datum.value*10) % 2 == 0 ? format(datum.value, '.1f') : ''","tickSize":{"condition":{"test":"round(datum.value*10) % 2 != 0","value":3},"value":5}}}},
  "layer":[
   {"data":{"name":"zt2"},"mark":{"type":"line","strokeWidth":1.6,"interpolate":"monotone"},
    "encoding":{"stroke":{"field":"t","type":"nominal","scale":{"domain":["100 °C","150 °C","200 °C","250 °C"],"range":["#000000","#ff2020","#2030ff","#18976a"]},"legend":{"orient":"none","legendX":156,"legendY":22,"title":null,"symbolType":"stroke","symbolSize":360,"symbolStrokeWidth":2.5,"rowPadding":-4,"labelOffset":2}}}},
   {"data":{"name":"zt2m"},"mark":{"type":"square","size":40,"opacity":1},
    "encoding":{"fill":{"field":"t","type":"nominal","scale":{"domain":["100 °C","150 °C","200 °C","250 °C"],"range":["#000000","#ff2020","#2030ff","#18976a"]},"legend":null}}}
  ]},
 {"width":187,"height":139,
  "title":{"text":"(CoGe₂)₀.₁₅(GeTe)₁₂Sb₂Te₃","offset":-16,"dx":6},
  "encoding":{
   "x":{"field":"p","type":"quantitative","scale":{"type":"log","domain":[4.68e16,1.86e22],"nice":false},"axis":{"title":"pₕ in cm⁻³","labelOverlap":false,"values":[1e17,1e18,1e19,1e20,1e21,1e22],"labelExpr":"'1E' + round(log(datum.value)/LN10)"}},
   "y":{"field":"z","type":"quantitative","scale":{"domain":[0,1.214],"nice":false},"axis":{"title":"zT","titleFontStyle":"italic","titleY":77,"labelOverlap":false,"values":[0,0.1,0.2,0.3,0.4,0.5,0.6,0.7,0.8,0.9,1.0,1.1,1.2],"labelExpr":"round(datum.value*10) % 2 == 0 ? format(datum.value, '.1f') : ''","tickSize":{"condition":{"test":"round(datum.value*10) % 2 != 0","value":3},"value":5}}}},
  "layer":[
   {"data":{"name":"zt3"},"mark":{"type":"line","strokeWidth":1.6,"interpolate":"monotone"},
    "encoding":{"stroke":{"field":"t","type":"nominal","scale":{"domain":["100 °C","150 °C","200 °C","250 °C"],"range":["#000000","#ff2020","#2030ff","#18976a"]},"legend":{"orient":"none","legendX":146,"legendY":20,"title":null,"symbolType":"stroke","symbolSize":360,"symbolStrokeWidth":2.5,"rowPadding":-4,"labelOffset":2}}}},
   {"data":{"name":"zt3m"},"mark":{"type":"square","size":40,"opacity":1},
    "encoding":{"fill":{"field":"t","type":"nominal","scale":{"domain":["100 °C","150 °C","200 °C","250 °C"],"range":["#000000","#ff2020","#2030ff","#18976a"]},"legend":null}}}
  ]},
 {"width":187,"height":147,
  "title":{"text":"(CoGe₂)₀.₀₁GeTe","offset":-18,"dx":5},
  "encoding":{
   "x":{"field":"p","type":"quantitative","scale":{"type":"log","domain":[5.98e16,6.31e21],"nice":false},"axis":{"title":"pₕ in cm⁻³","labelOverlap":false,"values":[1e17,1e18,1e19,1e20,1e21],"labelExpr":"'1E' + round(log(datum.value)/LN10)"}},
   "y":{"field":"S","type":"quantitative","scale":{"domain":[0,964],"nice":false},"axis":{"title":"S in μV/K","titleY":82,"labelOverlap":false,"values":[0,100,200,300,400,500,600,700,800,900],"labelExpr":"datum.value % 200 == 0 ? format(datum.value, 'd') : ''","tickSize":{"condition":{"test":"datum.value % 200 != 0","value":3},"value":5}}}},
  "layer":[
   {"data":{"name":"s1"},"mark":{"type":"line","strokeWidth":1.6,"interpolate":"monotone"},
    "encoding":{"stroke":{"field":"t","type":"nominal","scale":{"domain":["100 °C","150 °C","200 °C","250 °C"],"range":["#000000","#ff2020","#2030ff","#18976a"]},"legend":{"orient":"none","legendX":155,"legendY":35,"title":null,"symbolType":"stroke","symbolSize":360,"symbolStrokeWidth":2.5,"rowPadding":-4,"labelOffset":2}}}},
   {"data":{"name":"s1m"},"mark":{"type":"square","size":40,"opacity":1},
    "encoding":{"fill":{"field":"t","type":"nominal","scale":{"domain":["100 °C","150 °C","200 °C","250 °C"],"range":["#000000","#ff2020","#2030ff","#18976a"]},"legend":null}}}
  ]},
 {"width":187,"height":147,
  "title":{"text":"(CoGe₂)₀.₂₂(GeTe)₁₉Sb₂Te₃","offset":-18,"dx":13},
  "encoding":{
   "x":{"field":"p","type":"quantitative","scale":{"type":"log","domain":[7.16e16,1.82e22],"nice":false},"axis":{"title":"pₕ in cm⁻³","labelOverlap":false,"values":[1e17,1e18,1e19,1e20,1e21,1e22],"labelExpr":"'1E' + round(log(datum.value)/LN10)"}},
   "y":{"field":"S","type":"quantitative","scale":{"domain":[0,964],"nice":false},"axis":{"title":"S in μV/K","titleY":82,"labelOverlap":false,"values":[0,100,200,300,400,500,600,700,800,900],"labelExpr":"datum.value % 200 == 0 ? format(datum.value, 'd') : ''","tickSize":{"condition":{"test":"datum.value % 200 != 0","value":3},"value":5}}}},
  "layer":[
   {"data":{"name":"s2"},"mark":{"type":"line","strokeWidth":1.6,"interpolate":"monotone"},
    "encoding":{"stroke":{"field":"t","type":"nominal","scale":{"domain":["100 °C","150 °C","200 °C","250 °C"],"range":["#000000","#ff2020","#2030ff","#18976a"]},"legend":{"orient":"none","legendX":153,"legendY":38,"title":null,"symbolType":"stroke","symbolSize":360,"symbolStrokeWidth":2.5,"rowPadding":-4,"labelOffset":2}}}},
   {"data":{"name":"s2m"},"mark":{"type":"square","size":40,"opacity":1},
    "encoding":{"fill":{"field":"t","type":"nominal","scale":{"domain":["100 °C","150 °C","200 °C","250 °C"],"range":["#000000","#ff2020","#2030ff","#18976a"]},"legend":null}}}
  ]},
 {"width":187,"height":147,
  "title":{"text":"(CoGe₂)₀.₁₅(GeTe)₁₂Sb₂Te₃","offset":-18,"dx":9},
  "encoding":{
   "x":{"field":"p","type":"quantitative","scale":{"type":"log","domain":[4.68e16,1.86e22],"nice":false},"axis":{"title":"pₕ in cm⁻³","labelOverlap":false,"values":[1e17,1e18,1e19,1e20,1e21,1e22],"labelExpr":"'1E' + round(log(datum.value)/LN10)"}},
   "y":{"field":"S","type":"quantitative","scale":{"domain":[0,964],"nice":false},"axis":{"title":"S in μV/K","titleY":82,"labelOverlap":false,"values":[0,100,200,300,400,500,600,700,800,900],"labelExpr":"datum.value % 200 == 0 ? format(datum.value, 'd') : ''","tickSize":{"condition":{"test":"datum.value % 200 != 0","value":3},"value":5}}}},
  "layer":[
   {"data":{"name":"s3"},"mark":{"type":"line","strokeWidth":1.6,"interpolate":"monotone"},
    "encoding":{"stroke":{"field":"t","type":"nominal","scale":{"domain":["100 °C","150 °C","200 °C","250 °C"],"range":["#000000","#ff2020","#2030ff","#18976a"]},"legend":{"orient":"none","legendX":147,"legendY":36,"title":null,"symbolType":"stroke","symbolSize":360,"symbolStrokeWidth":2.5,"rowPadding":-4,"labelOffset":2}}}},
   {"data":{"name":"s3m"},"mark":{"type":"square","size":40,"opacity":1},
    "encoding":{"fill":{"field":"t","type":"nominal","scale":{"domain":["100 °C","150 °C","200 °C","250 °C"],"range":["#000000","#ff2020","#2030ff","#18976a"]},"legend":null}}}
  ]}
]
}
